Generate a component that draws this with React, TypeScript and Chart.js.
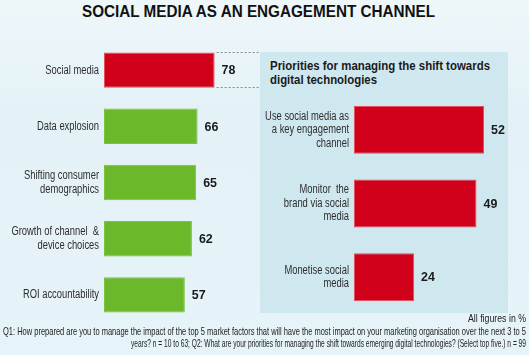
import React, { useEffect, useLayoutEffect, useRef } from "react";
import { Chart, registerables } from "chart.js";

Chart.register(...registerables);

const leftCategories: string[][] = [
  ["Social media"],
  ["Data explosion"],
  ["Shifting consumer", "demographics"],
  ["Growth of channel  &", "device choices"],
  ["ROI accountability"],
];
const leftValues = [78, 66, 65, 62, 57];
const leftColors = ["#d0001a", "#6bb82a", "#6bb82a", "#6bb82a", "#6bb82a"];

const rightCategories: string[][] = [
  ["Use social media as", "a key engagement", "channel"],
  ["Monitor  the", "brand via social", "media"],
  ["Monetise social", "media"],
];
const rightValues = [52, 49, 24];

const SANS = '"Liberation Sans", Arial, sans-serif';

function drawScaled(ctx: any, text: string, x: number, y: number, sx: number, align: "left" | "right") {
  ctx.save();
  ctx.translate(x, y);
  ctx.scale(sx, 1);
  ctx.textAlign = align;
  ctx.fillText(text, 0, 0);
  ctx.restore();
}

function labelsPlugin(cats: string[][], lineH: number) {
  return {
    id: "labelsPlugin",
    afterDatasetsDraw(chart: any) {
      const ctx = chart.ctx;
      const meta = chart.getDatasetMeta(0);
      const data = chart.data.datasets[0].data;
      const left = chart.chartArea.left;
      ctx.save();
      ctx.textBaseline = "middle";
      meta.data.forEach((bar: any, i: number) => {
        ctx.font = "12.5px " + SANS;
        ctx.fillStyle = "#2e2e2e";
        const lines = cats[i];
        const y0 = bar.y - ((lines.length - 1) * lineH) / 2;
        lines.forEach((ln, j) => drawScaled(ctx, ln, left - 5, y0 + j * lineH, 0.75, "right"));
        ctx.font = "bold 13.5px " + SANS;
        ctx.fillStyle = "#1a1a1a";
        drawScaled(ctx, String(data[i]), bar.x + 7, bar.y + 0.5, 0.92, "left");
      });
      ctx.restore();
    },
  };
}

const connector = {
  id: "connector",
  afterDatasetsDraw(chart: any) {
    const ctx = chart.ctx;
    const bar: any = chart.getDatasetMeta(0).data[0];
    const h = bar.height;
    const top = Math.round(bar.y - h / 2) + 0.5;
    const bot = Math.round(bar.y + h / 2) - 0.5;
    ctx.save();
    ctx.strokeStyle = "#8a8a8a";
    ctx.lineWidth = 1;
    ctx.setLineDash([2, 2]);
    ctx.beginPath();
    ctx.moveTo(bar.x + 2, top);
    ctx.lineTo(chart.width, top);
    ctx.moveTo(bar.x + 2, bot);
    ctx.lineTo(chart.width, bot);
    ctx.stroke();
    ctx.restore();
  },
};

function makeOptions(max: number, padLeft: number) {
  return {
    indexAxis: "y" as const,
    animation: false as const,
    responsive: false,
    maintainAspectRatio: false,
    layout: { padding: { left: padLeft, right: 0, top: 0, bottom: 0 } },
    plugins: { legend: { display: false }, tooltip: { enabled: false } },
    scales: {
      x: { display: false, min: 0, max },
      y: { display: false },
    },
  };
}

function LeftChart() {
  const ref = useRef<HTMLCanvasElement>(null);
  useEffect(() => {
    const chart = new Chart(ref.current!, {
      type: "bar",
      data: {
        labels: leftCategories.map((c) => c.join(" ")),
        datasets: [
          {
            data: leftValues,
            backgroundColor: leftColors,
            borderColor: leftColors.map((c) => (c === "#d0001a" ? "#e4505c" : "#7cc23e")),
            borderWidth: 1,
            borderSkipped: false,
            categoryPercentage: 1,
            barPercentage: 0.63,
          },
        ],
      },
      options: makeOptions(110, 104) as any,
      plugins: [labelsPlugin(leftCategories, 13.5), connector],
    });
    return () => chart.destroy();
  }, []);
  return (
    <canvas
      ref={ref}
      width={260}
      height={281}
      style={{ position: "absolute", left: 0, top: 42, width: 260, height: 281 }}
    />
  );
}

function RightChart() {
  const ref = useRef<HTMLCanvasElement>(null);
  useEffect(() => {
    const chart = new Chart(ref.current!, {
      type: "bar",
      data: {
        labels: rightCategories.map((c) => c.join(" ")),
        datasets: [
          {
            data: rightValues,
            backgroundColor: "#d0001a",
            borderColor: "#e4505c",
            borderWidth: 1,
            borderSkipped: false,
            categoryPercentage: 1,
            barPercentage: 0.65,
          },
        ],
      },
      options: makeOptions(61.6, 94) as any,
      plugins: [labelsPlugin(rightCategories, 13.5)],
    });
    return () => chart.destroy();
  }, []);
  return (
    <canvas
      ref={ref}
      width={248}
      height={221}
      style={{ position: "absolute", left: 260, top: 93, width: 248, height: 221 }}
    />
  );
}

function FitText(props: { text: string; left: number; top: number; width: number; style: any }) {
  const ref = useRef<HTMLDivElement>(null);
  useLayoutEffect(() => {
    const el = ref.current!;
    el.style.transform = "none";
    const w = el.getBoundingClientRect().width;
    el.style.transform = `scaleX(${props.width / w})`;
  }, []);
  return (
    <div
      ref={ref}
      style={{
        position: "absolute",
        left: props.left,
        top: props.top,
        whiteSpace: "nowrap",
        transformOrigin: "left top",
        fontFamily: SANS,
        ...props.style,
      }}
    >
      {props.text}
    </div>
  );
}

export default function App() {
  return (
    <div
      style={{
        position: "absolute",
        left: 0,
        top: 0,
        width: 529,
        height: 355,
        overflow: "hidden",
        background: "linear-gradient(#eef7fa, #e4f2f7 30%, #e6f3f8)",
      }}
    >
      <FitText
        text="SOCIAL MEDIA AS AN ENGAGEMENT CHANNEL"
        left={82}
        top={2}
        width={353}
        style={{ fontWeight: 700, fontSize: 16, lineHeight: "20px", color: "#111" }}
      />
      <div
        style={{
          position: "absolute",
          left: 260,
          top: 52,
          width: 248,
          height: 261,
          background: "#cfe7ef",
        }}
      />
      <FitText
        text="Priorities for managing the shift towards"
        left={270}
        top={58}
        width={220}
        style={{ fontWeight: 700, fontSize: 13, lineHeight: "15px", color: "#1a1a1a" }}
      />
      <FitText
        text="digital technologies"
        left={270}
        top={72}
        width={107}
        style={{ fontWeight: 700, fontSize: 13, lineHeight: "15px", color: "#1a1a1a" }}
      />
      <LeftChart />
      <RightChart />
      <FitText
        text="All figures in %"
        left={468}
        top={312}
        width={58}
        style={{ fontSize: 10.5, lineHeight: "12px", color: "#222" }}
      />
      <FitText
        text="Q1: How prepared are you to manage the impact of the top 5 market factors that will have the most impact on your marketing organisation over the next 3 to 5"
        left={3}
        top={325}
        width={523}
        style={{ fontSize: 10.5, lineHeight: "12px", color: "#222" }}
      />
      <FitText
        text="years? n = 10 to 63; Q2: What are your priorities for managing the shift towards emerging digital technologies? (Select top five.) n = 99"
        left={131}
        top={337}
        width={395}
        style={{ fontSize: 10.5, lineHeight: "12px", color: "#222" }}
      />
    </div>
  );
}
